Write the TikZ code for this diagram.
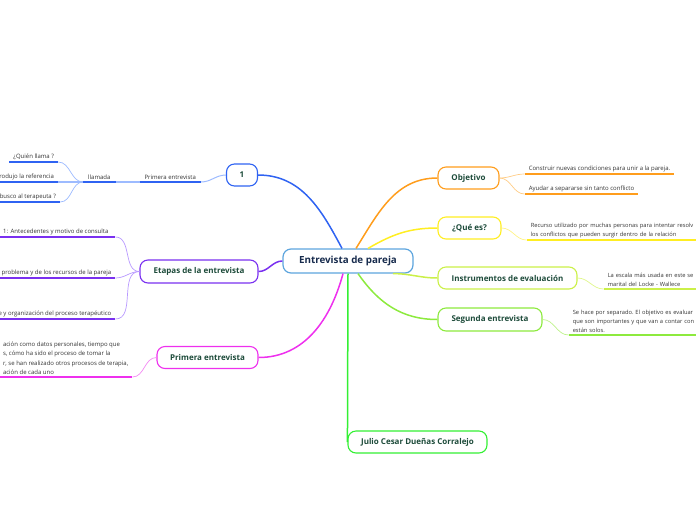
\documentclass[tikz,border=0pt]{standalone}
\usepackage{fontspec}
\setmainfont{Open Sans}
\usetikzlibrary{positioning}
\frenchspacing

\definecolor{txtgreen}{HTML}{1D4B3A}
\definecolor{txtnavy}{HTML}{172B4D}
\definecolor{txtgray}{HTML}{333333}
\definecolor{cCentral}{HTML}{5DA5DE}
\definecolor{cBlue}{HTML}{2F63F2}
\definecolor{cBlueL}{HTML}{9DBBFF}
\definecolor{cPurple}{HTML}{7A30F0}
\definecolor{cPurpleL}{HTML}{B899FF}
\definecolor{cMagenta}{HTML}{EE30EE}
\definecolor{cMagentaL}{HTML}{F38AF3}
\definecolor{cOrange}{HTML}{FF9D1C}
\definecolor{cOrangeL}{HTML}{FFCC85}
\definecolor{cYellow}{HTML}{FFEE22}
\definecolor{cYellowL}{HTML}{FFF385}
\definecolor{cLime}{HTML}{CBF048}
\definecolor{cLimeL}{HTML}{DFF68A}
\definecolor{cGreen}{HTML}{8DEA3E}
\definecolor{cGreenL}{HTML}{BDF28A}
\definecolor{cBright}{HTML}{33F033}

\begin{document}
\begin{tikzpicture}[x=1pt,y=-1pt]
  \useasboundingbox (0,0) rectangle (696,520);
  \begin{scope}[
    topic/.style={
      rectangle,
      draw,
      fill=white,
      rounded corners=8pt,
      line width=1.1pt,
      inner sep=0pt,
      minimum height=22pt,
      text=txtgreen,
      font=\fontsize{8}{9.5}\selectfont\bfseries,
    },
    leaf/.style={
      inner xsep=4pt,
      inner ysep=2pt,
      align=left,
      text=txtgray,
      font=\fontsize{6}{9.4}\selectfont,
    },
    edgeleaf/.style={
      leaf,
      font=\fontsize{5.75}{9.2}\selectfont,
    },
    ]
    % EP
    \node [topic, draw=cCentral, line width=1.2pt, minimum width=130pt,
      minimum height=24pt, text=txtnavy,
      font=\fontsize{9.8}{11}\selectfont\bfseries] (EP) at (348,261)
      {Entrevista de pareja};

    % N1
    \node [topic, draw=cBlue, minimum width=31pt] (N1) at (242,175) {1};

    % PE1
    \node [leaf, above left=-7pt and 25pt of N1.west, minimum width=61pt,
      align=center] (PE1) {Primera entrevista};

    % LL
    \node [leaf, above left=0pt and 24pt of PE1.south west, minimum width=32pt,
      align=center] (LL) {llamada};

    % Q1, Q2, Q3
    \node [leaf, above left=20pt and 25pt of LL.south west] (Q1) {¿Quién llama ?};
    \node [leaf, above left=0pt and 25pt of LL.south west] (Q2) {rodujo la referencia};
    \node [leaf, above left=-20pt and 23pt of LL.south west] (Q3) {busco al terapeuta ?};

    % ET
    \node [topic, draw=cPurple, minimum width=118pt, minimum height=23pt] (ET)
      at (199,271.5) {Etapas de la entrevista};

    % S1, S2, S3
    \node [leaf, above left=34.5pt and 24pt of ET.west, minimum width=119pt,
      align=center] (S1) {1:\, Antecedentes y motivo de consulta};
    \node [leaf, above left=-6.5pt and 24pt of ET.west] (S2)
      {problema y de los recursos de la pareja};
    \node [leaf, above left=-47.5pt and 24pt of ET.west] (S3)
      {e y organización del proceso terapéutico};

    % PE2
    \node [topic, draw=cMagenta, minimum width=101pt] (PE2) at (207.5,357.5)
      {Primera entrevista};

    % PT
    \node [leaf, above left=-19.5pt and 24pt of PE2.west] (PT)
      {ación como datos personales, tiempo que\\
       s, cómo ha sido el proceso de tomar la\\
       r, se han realizado otros procesos de terapia,\\
       ación de cada uno};

    % Obj
    \node [topic, draw=cOrange, minimum width=61pt] (Obj) at (468.5,178) {Objetivo};

    % O1, O2
    \node [leaf, above right=4pt and 25pt of Obj.east] (O1)
      {Construir nuevas condiciones para unir a la pareja.};
    \node [leaf, above right=-16pt and 25pt of Obj.east] (O2)
      {Ayudar a separarse sin tanto conflicto};

    % Que
    \node [topic, draw=cYellow, minimum width=63pt] (Que) at (469.5,228) {¿Qué es?};

    % QT
    \node [edgeleaf, above right=-12pt and 25pt of Que.east, text width=200pt] (QT)
      {Recurso utilizado por muchas personas para intentar resolv\\
       los conflictos que pueden surgir dentro de la relación};

    % Instr
    \node [topic, draw=cLime, minimum width=139pt] (Instr) at (507.5,278)
      {Instrumentos de evaluación};

    % IT
    \node [edgeleaf, above right=-11pt and 26pt of Instr.east, text width=110pt] (IT)
      {La escala más usada en este se\\
       marital del Locke - Wallece};

    % Seg
    \node [topic, draw=cGreen, minimum width=104pt, minimum height=23pt] (Seg)
      at (490,319.5) {Segunda entrevista};

    % ST
    \node [edgeleaf, above right=-15.5pt and 26pt of Seg.east, text width=150pt] (ST)
      {Se hace por separado. El objetivo es evaluar\\
       que son importantes y que van a contar con\\
       están solos.};

    % Ju
    \node [topic, draw=cBright, minimum width=139pt] (Ju) at (417.5,442)
      {Julio Cesar Dueñas Corralejo};
  \end{scope}
  \begin{scope}[
    branch/.style={
      line width=1.5pt,
    },
    twig/.style={
      line width=0.7pt,
    },
    uline/.style={
      line width=1.4pt,
    },
    ]
    % Path EP
    \draw [branch, cBlue] ([xshift=-6pt]EP.north) to[out=118,in=0] (N1.east);
    \draw [branch, cOrange] ([xshift=8pt]EP.north) to[out=58,in=180] (Obj.west);
    \draw [branch, cYellow] ([xshift=20pt]EP.north) to[out=30,in=180] (Que.west);
    \draw [branch, cLime] ([xshift=45pt]EP.south) to[out=0,in=180] (Instr.west);
    \draw [branch, cGreen] ([xshift=10pt]EP.south) to[out=-55,in=180] (Seg.west);
    \draw [branch, cBright] (EP.south) -- (Ju.west);
    \draw [branch, cMagenta] ([xshift=-5pt]EP.south) to[out=-105,in=0] (PE2.east);
    \draw [branch, cPurple] (EP.west) to[out=180,in=0] (ET.east);

    % Path N1
    \draw [twig, cBlueL, line width=1pt] (N1.west) to[out=180,in=0] (PE1.south east);
    \draw [twig, cBlueL, line width=1.1pt] (LL.south east) -- (PE1.south west);
    \draw [twig, cBlueL] (LL.south west) to[out=180,in=0] (Q1.south east);
    \draw [twig, cBlueL, line width=1.1pt] (LL.south west) -- (Q2.south east);
    \draw [twig, cBlueL] (LL.south west) to[out=180,in=0] (Q3.south east);
    \draw [uline, cBlue] (PE1.south west) -- (PE1.south east);
    \draw [uline, cBlue] (LL.south west) -- (LL.south east);
    \draw [uline, cBlue] (Q1.south west) -- (Q1.south east);
    \draw [uline, cBlue] (Q2.south west) -- (Q2.south east);
    \draw [uline, cBlue] (Q3.south west) -- (Q3.south east);

    % Path ET
    \draw [twig, cPurpleL] (ET.west) to[out=180,in=0] (S1.south east);
    \draw [twig, cPurpleL] (ET.west) to[out=180,in=0] (S2.south east);
    \draw [twig, cPurpleL] (ET.west) to[out=180,in=0] (S3.south east);
    \draw [uline, cPurple] (S1.south west) -- (S1.south east);
    \draw [uline, cPurple] (S2.south west) -- (S2.south east);
    \draw [uline, cPurple] (S3.south west) -- (S3.south east);

    % Path PE2
    \draw [twig, cMagentaL] (PE2.west) to[out=180,in=0] (PT.south east);
    \draw [uline, cMagenta] (PT.south west) -- (PT.south east);

    % Path Obj
    \draw [twig, cOrangeL] (Obj.east) to[out=0,in=180] (O1.south west);
    \draw [twig, cOrangeL] (Obj.east) to[out=0,in=180] (O2.south west);
    \draw [uline, cOrange] (O1.south west) -- (O1.south east);
    \draw [uline, cOrange] (O2.south west) -- (O2.south east);

    % Path Que
    \draw [twig, cYellowL] (Que.east) to[out=0,in=180] (QT.south west);
    \draw [uline, cYellow] (QT.south west) -- (QT.south east);

    % Path Instr
    \draw [twig, cLimeL] (Instr.east) to[out=0,in=180] (IT.south west);
    \draw [uline, cLime] (IT.south west) -- (IT.south east);

    % Path Seg
    \draw [twig, cGreenL] (Seg.east) to[out=0,in=180] (ST.south west);
    \draw [uline, cGreen] (ST.south west) -- (ST.south east);
  \end{scope}
\end{tikzpicture}
\end{document}
